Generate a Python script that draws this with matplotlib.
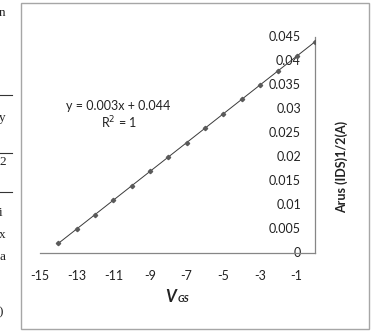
import matplotlib
matplotlib.use("Agg")
import matplotlib.pyplot as plt
from matplotlib.patches import Rectangle
from matplotlib.lines import Line2D

plt.rcParams['font.family'] = ['Lato', 'DejaVu Sans']

# data
vgs = [-14, -13, -12, -11, -10, -9, -8, -7, -6, -5, -4, -3, -2, -1, 0]
arus = [0.002, 0.005, 0.008, 0.011, 0.014, 0.017, 0.020, 0.023, 0.026,
        0.029, 0.032, 0.035, 0.038, 0.041, 0.044]
xticks = [-15, -13, -11, -9, -7, -5, -3, -1]
yticks = [0, 0.005, 0.01, 0.015, 0.02, 0.025, 0.03, 0.035, 0.04, 0.045]
ytick_labels = ['0', '0.005', '0.01', '0.015', '0.02', '0.025', '0.03', '0.035', '0.04', '0.045']
equation = "y = 0.003x + 0.044"
r2 = "R$^2$ = 1"

W, H = 371, 333
fig = plt.figure(figsize=(W / 100, H / 100), dpi=100)
FS = 9.0

def fx(px):
    return px / W

def fy(py):
    return 1 - py / H

# chart frame
fig.patches.append(Rectangle((fx(21), fy(329)), fx(348), (329 - 3) / H,
                             transform=fig.transFigure, fill=False,
                             edgecolor='#a6a6a6', linewidth=1.0))

ax = fig.add_axes([fx(40), fy(253), fx(275), 216 / H])
ax.plot(vgs, arus, color='#3a3a3a', linewidth=0.7, marker='D', markersize=2.2,
        markerfacecolor='#5a5a5a', markeredgecolor='#5a5a5a', zorder=3)
ax.set_xlim(-15, 0)
ax.set_ylim(0, 0.045)
ax.set_xticks(xticks)
ax.set_xticklabels([str(v) for v in xticks])
ax.set_yticks(yticks)
ax.set_yticklabels([])
for s in ['top', 'left']:
    ax.spines[s].set_visible(False)
for s in ['bottom', 'right']:
    ax.spines[s].set_color('#868686')
    ax.spines[s].set_linewidth(0.9)
ax.tick_params(axis='both', length=0, labelsize=FS, colors='#222222')
ax.tick_params(axis='x', pad=12)
ax.patch.set_alpha(0)

# y tick labels sit just left of the y axis (axis crosses at x = 0)
ytr = ax.get_yaxis_transform()
lx = (301 - 40) / 275
for v, lab in zip(yticks, ytick_labels):
    ax.text(lx, v, lab, transform=ytr, ha='right', va='center', fontsize=FS,
            color='#222222', zorder=1)

ax.text(fx(118), fy(106), equation, transform=fig.transFigure, ha='center',
        va='center', fontsize=FS, color='#222222')
ax.text(fx(119), fy(123), r2, transform=fig.transFigure, ha='center',
        va='center', fontsize=FS, color='#222222')

fig.text(fx(342), fy(167), "Arus (IDS)1/2(A)", rotation=90, ha='center',
         va='center', fontsize=FS, fontweight='bold', color='#222222')

fig.text(fx(176), fy(297), "V", ha='right', va='center', fontsize=12,
         fontweight='bold', style='italic', color='#222222')
fig.text(fx(178), fy(300), "GS", ha='left', va='center', fontsize=7,
         fontweight='bold', style='italic', color='#222222')

# cut-off document text at the left edge
serif = ['Liberation Serif', 'DejaVu Serif']
for ch, yy in [("n", 13), ("y", 118), ("2", 162), ("i", 213), ("x", 235),
               ("a", 257), (")", 312)]:
    fig.text(fx(-1), fy(yy), ch, ha='left', va='center', fontsize=9.5,
             family=serif, color='#222222')
for yy in [95, 153, 192]:
    fig.add_artist(Line2D([0, fx(12)], [fy(yy), fy(yy)], transform=fig.transFigure,
                          color='#333333', linewidth=0.8))

fig.savefig("out.png", dpi=100)
